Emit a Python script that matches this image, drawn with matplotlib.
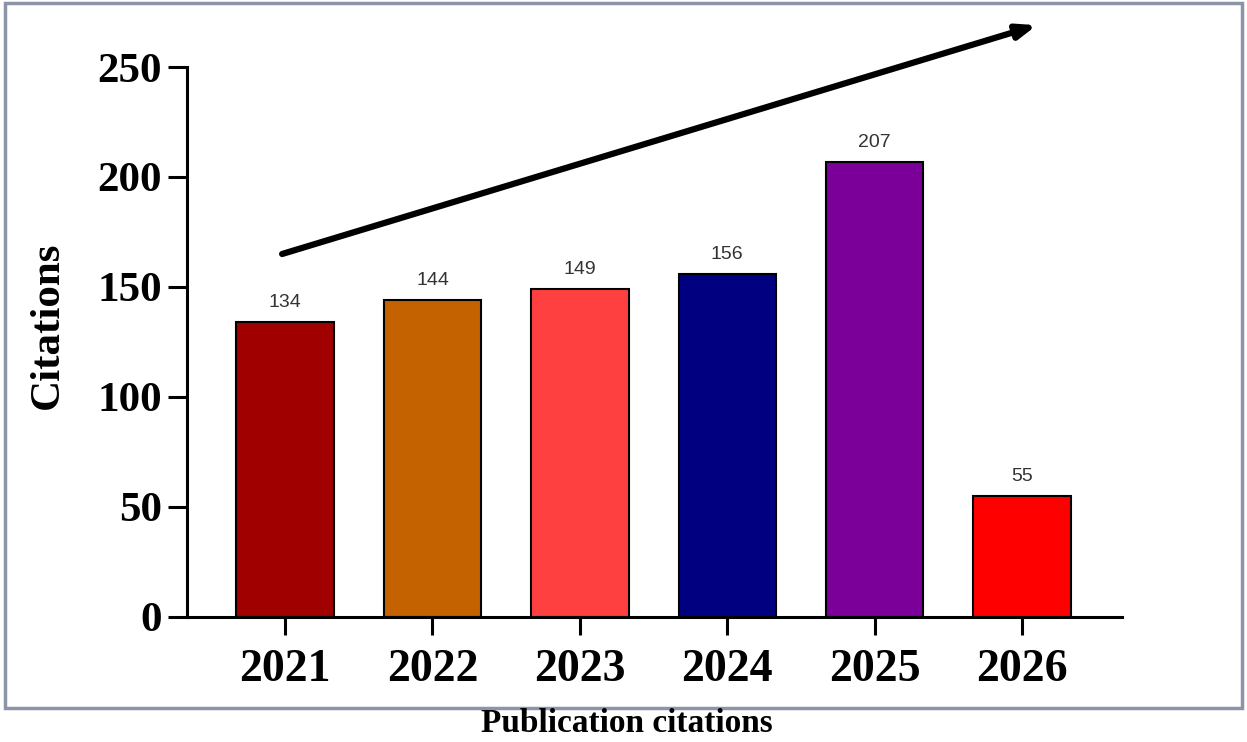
import matplotlib.pyplot as plt
from matplotlib.patches import Rectangle

years = ["2021", "2022", "2023", "2024", "2025", "2026"]
citations = [134, 144, 149, 156, 207, 55]
bar_colors = ["#A00000", "#C46200", "#FF4040", "#000080", "#7A0099", "#FF0000"]
y_ticks = [0, 50, 100, 150, 200, 250]

serif = ["Liberation Serif", "DejaVu Serif"]

fig = plt.figure(figsize=(12.47, 7.42), dpi=100)
ax = fig.add_axes([0.150, 0.1685, 0.750, 0.7412])

x = range(len(years))
bars = ax.bar(x, citations, width=0.66, color=bar_colors,
              edgecolor="black", linewidth=1.5, zorder=2)

# value labels above each bar
for xi, v in zip(x, citations):
    ax.text(xi, v + 5, str(v), ha="center", va="bottom",
            fontsize=14, color="#333333", family="Liberation Sans")

ax.set_xlim(-0.665, 5.68)
ax.set_ylim(0, 250)
ax.set_yticks(y_ticks)
ax.set_xticks(list(x))
ax.set_xticklabels(years)

for label in ax.get_yticklabels():
    label.set_family(serif)
    label.set_fontweight("bold")
    label.set_fontsize(31)
for label in ax.get_xticklabels():
    label.set_family(serif)
    label.set_fontweight("bold")
    label.set_fontsize(33)

ax.spines["top"].set_visible(False)
ax.spines["right"].set_visible(False)
ax.spines["left"].set_linewidth(2.2)
ax.spines["bottom"].set_linewidth(2.2)
ax.tick_params(axis="y", length=14, width=2.2, pad=4)
ax.tick_params(axis="x", length=13, width=2.2, pad=10)

ax.set_ylabel("Citations", family=serif, fontweight="bold", fontsize=31, labelpad=20)
ax.yaxis.set_label_coords(-0.128, 0.53)

# trend arrow running above the bars
ax.annotate("", xy=(5.1, 269), xytext=(-0.02, 165),
            arrowprops=dict(arrowstyle="-|>,head_length=1.1,head_width=0.42",
                            color="black", lw=4.5, shrinkA=0, shrinkB=0),
            annotation_clip=False)

# panel frame and caption underneath
fig.patches.append(Rectangle((0.004, 0.046), 0.992, 0.95, transform=fig.transFigure,
                             fill=False, edgecolor="#8C95A8", linewidth=2.5))
fig.text(0.503, 0.0135, "Publication citations", ha="center", va="baseline",
         family=serif, fontweight="bold", fontsize=24)

fig.savefig("out.png", dpi=100)
